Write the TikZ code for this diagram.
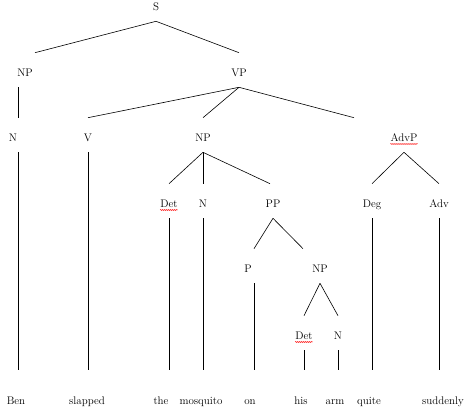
\documentclass[tikz,border=0pt]{standalone}
\usepackage{tikz}
\usetikzlibrary{positioning,decorations.pathmorphing}
\tikzstyle{cat} = [inner sep=0pt, anchor=base, text height=24pt, text depth=10pt]
\tikzstyle{word} = [inner sep=0pt, anchor=base, text height=35pt, text depth=2pt]
\tikzstyle{spell} = [red, line width=0.4pt, decorate, decoration={snake, amplitude=0.6pt, segment length=2pt}]

\begin{document}
\begin{tikzpicture}[x=1pt, y=-1pt, font=\fontsize{11}{13}\selectfont, line width=0.6pt]
\useasboundingbox (0,0) rectangle (474,411);

% categories
\node [cat] (S) at (156,11) {S};
\node [cat] (NPa) at (25,77) {NP};
\node [cat] (VP) at (239,77) {VP};
\node [cat] (Na) at (13,142) {N};
\node [cat] (V) at (88,142) {V};
\node [cat] (NPb) at (203,142) {NP};
\node [cat] (AdvP) at (404,142) {AdvP};
\node [cat] (Deta) at (169,208) {Det};
\node [cat] (Nb) at (203,208) {N};
\node [cat] (PP) at (273,208) {PP};
\node [cat] (Deg) at (372,208) {Deg};
\node [cat] (Adv) at (439,208) {Adv};
\node [cat] (P) at (248,273) {P};
\node [cat] (NPc) at (320,273) {NP};
\node [cat] (Detb) at (304,340) {Det};
\node [cat] (Nc) at (338,340) {N};

% words
\node [word] (Ben) at (16,405) {Ben};
\node [word] (slapped) at (87,405) {slapped};
\node [word] (the) at (161,405) {the};
\node [word] (mosquito) at (201,405) {mosquito};
\node [word] (on) at (250,405) {on};
\node [word] (his) at (301,405) {his};
\node [word] (arm) at (335,405) {arm};
\node [word] (quite) at (369,405) {quite};
\node [word] (suddenly) at (443,405) {suddenly};

% branches
\draw (S.south) -- ([xshift=10pt]NPa.north);
\draw (S.south) -- (VP.north);
\draw ([xshift=-7pt]NPa.south) -- ([xshift=5pt]Na.north);
\draw (VP.south) -- (V.north);
\draw (VP.south) -- (NPb.north);
\draw (VP.south) -- ([xshift=-50pt]AdvP.north);
\draw (NPb.south) -- (Deta.north);
\draw (NPb.south) -- (Nb.north);
\draw (NPb.south) -- ([xshift=-3pt]PP.north);
\draw (AdvP.south) -- (Deg.north);
\draw (AdvP.south) -- (Adv.north);
\draw (PP.south) -- ([xshift=6pt]P.north);
\draw (PP.south) -- ([xshift=-17pt]NPc.north);
\draw (NPc.south) -- (Detb.north);
\draw (NPc.south) -- (Nc.north);

% down to the words
\draw ([xshift=5pt]Na.south) -- ([xshift=5pt]Na.south |- Ben.north);
\draw (V.south) -- (V.south |- slapped.north);
\draw (Deta.south) -- (Deta.south |- the.north);
\draw (Nb.south) -- (Nb.south |- mosquito.north);
\draw ([xshift=6pt]P.south) -- ([xshift=6pt]P.south |- on.north);
\draw (Detb.south) -- (Detb.south |- his.north);
\draw (Nc.south) -- (Nc.south |- arm.north);
\draw (Deg.south) -- (Deg.south |- quite.north);
\draw (Adv.south) -- (Adv.south |- suddenly.north);

% spell check marks
\draw [spell] ([yshift=-2pt]Deta.base west) -- ([yshift=-2pt]Deta.base east);
\draw [spell] ([yshift=-2pt]Detb.base west) -- ([yshift=-2pt]Detb.base east);
\draw [spell] ([yshift=-2pt]AdvP.base west) -- ([yshift=-2pt]AdvP.base east);

\end{tikzpicture}
\end{document}
